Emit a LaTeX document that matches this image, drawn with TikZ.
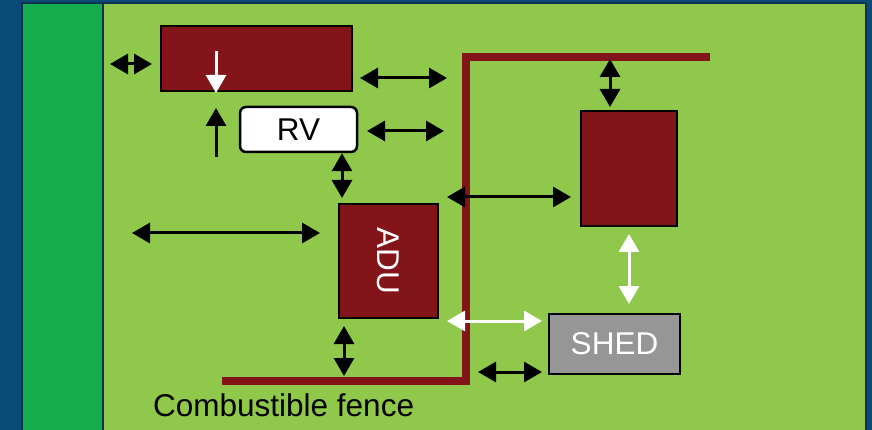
\documentclass[tikz,border=0pt]{standalone}
\usepackage{fontspec}
\setmainfont{Liberation Sans}
\usetikzlibrary{arrows.meta}
\definecolor{bgblue}{HTML}{0B4B77}
\definecolor{navy}{HTML}{0E3350}
\definecolor{lgreen}{HTML}{8FC84B}
\definecolor{dgreen}{HTML}{14AC4C}
\definecolor{dred}{HTML}{82141A}
\definecolor{shedgray}{HTML}{969696}
\tikzset{
  box/.style={draw=black, line width=2.5pt, fill=dred, inner sep=0pt},
  lbl/.style={font=\fontsize{31.5}{34}\selectfont},
  tip/.tip={Triangle[length=18pt,width=20pt]},
  barr/.style={black, line width=3pt, tip-tip},
  warr/.style={white, line width=3pt, tip-tip},
  fence/.style={dred, line width=8pt},
}
\begin{document}
\begin{tikzpicture}[x=1pt,y=-1pt]
\useasboundingbox (0,0) rectangle (872,430);
% background
\fill[bgblue] (0,0) rectangle (872,430);
\fill[lgreen] (22,3) rectangle (866,431);
\fill[dgreen] (22,3) rectangle (103,431);
\draw[navy, line width=2pt] (22,3) rectangle (866,431);
\draw[navy, line width=1.5pt] (103,3) -- (103,431);
% fence
\coordinate (f1) at (222,380.5);
\coordinate (f2) at (466,380.5);
\coordinate (f3) at (466,57);
\coordinate (f4) at (710,57);
\draw[fence] (f1) -- (f2) -- (f3) -- (f4);
% boxes
\node[box, minimum width=191pt, minimum height=65pt] (house) at (256.5,58.5) {};
\node[draw=black, line width=2.5pt, fill=white, rounded corners=6pt, minimum width=117pt, minimum height=45pt, inner sep=0pt, lbl] (rv) at (298.5,129.5) {RV};
\node[box, minimum width=99pt, minimum height=114pt] (adu) at (388.5,261) {};
\node[lbl, text=white, rotate=-90] (adulbl) at (adu.center) {ADU};
\node[box, minimum width=96pt, minimum height=115pt] (garage) at (629,168.5) {};
\node[draw=black, line width=2.5pt, fill=shedgray, minimum width=131pt, minimum height=60pt, inner sep=0pt, lbl, text=white] (shed) at (614.5,344) {SHED};
% arrows
\coordinate (a1s) at (110,64); \coordinate (a1e) at (152,64);
\draw[barr] (a1s) -- (a1e);
\coordinate (a2s) at (360,78); \coordinate (a2e) at (447,78);
\draw[barr] (a2s) -- (a2e);
\coordinate (a3s) at (367,131); \coordinate (a3e) at (444,131);
\draw[barr] (a3s) -- (a3e);
\coordinate (w1s) at (216,51); \coordinate (w1e) at (216,93);
\draw[white, line width=3pt, -tip] (w1s) -- (w1e);
\coordinate (b1s) at (216,157); \coordinate (b1e) at (216,108);
\draw[black, line width=3pt, -tip] (b1s) -- (b1e);
\coordinate (a4e) at (342,198);
\draw[barr] (rv.south -| a4e) -- (a4e);
\coordinate (a5s) at (132,233); \coordinate (a5e) at (320,233);
\draw[barr] (a5s) -- (a5e);
\coordinate (a6s) at (344,326); \coordinate (a6e) at (344,376);
\draw[barr] (a6s) -- (a6e);
\coordinate (a7s) at (447,197); \coordinate (a7e) at (571,197);
\draw[barr] (a7s) -- (a7e);
\coordinate (a8s) at (610,59); \coordinate (a8e) at (610,107);
\draw[barr] (a8s) -- (a8e);
\coordinate (w2s) at (629,234); \coordinate (w2e) at (629,304);
\draw[warr] (w2s) -- (w2e);
\coordinate (w3s) at (447,321); \coordinate (w3e) at (542,321);
\draw[warr] (w3s) -- (w3e);
\coordinate (a9s) at (478,372); \coordinate (a9e) at (542,372);
\draw[barr] (a9s) -- (a9e);
% label
\node[lbl, anchor=base west, inner sep=0pt] (fencelbl) at (153,416) {Combustible fence};
\end{tikzpicture}
\end{document}
